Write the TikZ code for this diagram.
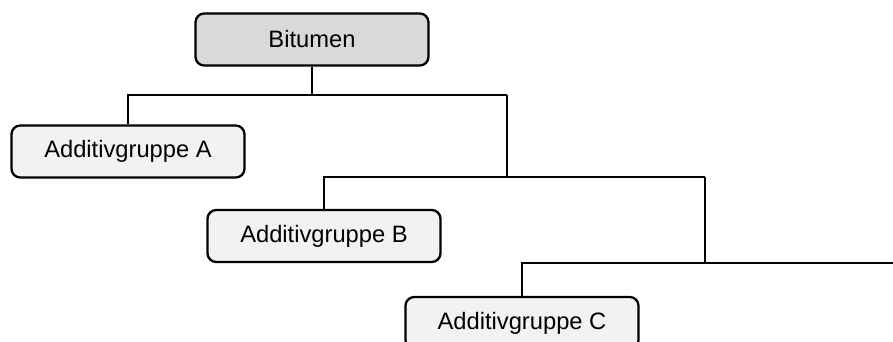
\documentclass[tikz,border=0pt]{standalone}
\usepackage{fontspec}
\setmainfont{Liberation Sans}
\usetikzlibrary{calc}
\definecolor{rootgray}{HTML}{D9D9D9}
\definecolor{leafgray}{HTML}{F2F2F2}

\begin{document}
\begin{tikzpicture}[
  box/.style={draw=black, line width=1.3pt, rounded corners=5pt,
    minimum width=4.66cm, minimum height=1.04cm, inner sep=0pt,
    font=\fontsize{13.5}{16}\selectfont},
  rootbox/.style={box, fill=rootgray},
  leafbox/.style={box, fill=leafgray},
  tree/.style={line width=1.3pt}
]
\useasboundingbox (0,0) rectangle (17.86,-6.84);

\node[rootbox] (bit) at (6.24,-0.79) {Bitumen};
\node[leafbox] (A) at (2.56,-3.03) {Additivgruppe A};
\node[leafbox] (B) at (6.48,-4.72) {Additivgruppe B};
\node[leafbox] (C) at (10.44,-6.46) {Additivgruppe C};

\coordinate (j1) at (10.14,-1.9);
\coordinate (j2) at (14.10,-3.54);
\coordinate (j3) at (17.86,-5.26);

\draw[tree] (bit.south) -- (bit.south |- j1);
\draw[tree] (A.north) |- (j1);
\draw[tree] (j1) -- (j1 |- j2);
\draw[tree] (B.north) |- (j2);
\draw[tree] (j2) -- (j2 |- j3);
\draw[tree] (C.north) |- (j3);

\end{tikzpicture}
\end{document}
